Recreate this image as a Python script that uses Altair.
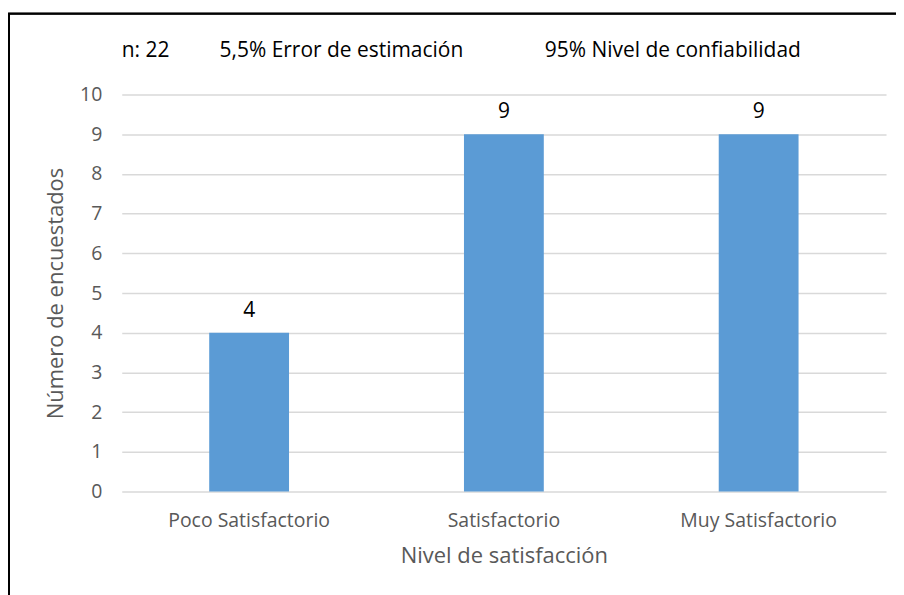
import altair as alt
import pandas as pd

categories = ["Poco Satisfactorio", "Satisfactorio", "Muy Satisfactorio"]
values = [4, 9, 9]
y_ticks = [0, 1, 2, 3, 4, 5, 6, 7, 8, 9, 10]
header_texts = ["n: 22", "5,5% Error de estimación", "95% Nivel de confiabilidad"]
header_x = [0, 98, 424]

df = pd.DataFrame({"cat": categories, "val": values})
hdr = pd.DataFrame({"t": header_texts, "px": header_x})

FONT = "Open Sans"
GREY = "#595959"

x_enc = alt.X("cat:N", sort=categories,
              scale=alt.Scale(paddingInner=0, paddingOuter=0),
              axis=alt.Axis(title="Nivel de satisfacción", labelAngle=0, ticks=False,
                            domain=False, labelPadding=20, titlePadding=16,
                            labelFontSize=19.5, titleFontSize=22,
                            labelColor=GREY, titleColor=GREY,
                            labelFont=FONT, titleFont=FONT, titleFontWeight="normal"))
y_enc = alt.Y("val:Q", scale=alt.Scale(domain=[0, 10], nice=False, zero=True),
              axis=alt.Axis(title="Número de encuestados", values=y_ticks, tickCount=20,
                            format="d", labelOverlap=False,
                            ticks=False, domain=False, labelPadding=20, titlePadding=12,
                            labelFontSize=19.5, titleFontSize=22,
                            labelColor=GREY, titleColor=GREY,
                            labelFont=FONT, titleFont=FONT, titleFontWeight="normal",
                            gridColor="#d9d9d9", gridWidth=1.5))

base = alt.Chart(df).encode(x=x_enc, y=y_enc)
bars = base.mark_bar(color="#5b9bd5", size=80)
labels = base.mark_text(baseline="bottom", dy=-12, fontSize=21, font=FONT,
                        color="#000000").encode(text="val:Q")

header = alt.Chart(hdr).mark_text(align="left", baseline="middle", fontSize=21,
                                  font=FONT, color="#000000").encode(
    x=alt.X("px:Q", scale=None), y=alt.value(-44), text="t:N")

border = alt.Chart(hdr).mark_rect(fill=None, stroke="#000000", strokeWidth=1.8).encode(
    x=alt.value(-113), y=alt.value(-81), x2=alt.value(900), y2=alt.value(620))

chart = alt.layer(bars, labels, header, border).properties(
    width=766, height=398,
    background="white",
    autosize=alt.AutoSizeParams(type="none"),
    padding={"left": 114, "top": 86, "right": 10, "bottom": 110},
).configure_view(stroke=None)

chart.save("out.html", embed_options={"renderer": "svg", "actions": False})
